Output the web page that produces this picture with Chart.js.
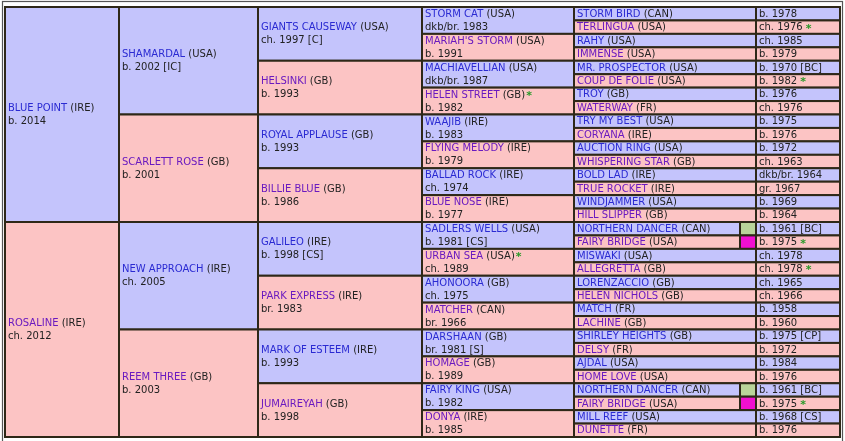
<!DOCTYPE html>
<html><head><meta charset="utf-8">
<script src="https://cdn.jsdelivr.net/npm/chart.js@4"></script>
<style>html,body{margin:0;padding:0;background:#fff}canvas{display:block}</style>
</head><body><canvas id="c" width="845" height="441"></canvas>
<script>
// [name, country, date, star]
const gen1 = [["BLUE POINT","IRE","b. 2014",0],["ROSALINE","IRE","ch. 2012",0]];
const gen2 = [["SHAMARDAL","USA","b. 2002 [IC]",0],["SCARLETT ROSE","GB","b. 2001",0],["NEW APPROACH","IRE","ch. 2005",0],["REEM THREE","GB","b. 2003",0]];
const gen3 = [["GIANTS CAUSEWAY","USA","ch. 1997 [C]",0],["HELSINKI","GB","b. 1993",0],["ROYAL APPLAUSE","GB","b. 1993",0],["BILLIE BLUE","GB","b. 1986",0],
  ["GALILEO","IRE","b. 1998 [CS]",0],["PARK EXPRESS","IRE","br. 1983",0],["MARK OF ESTEEM","IRE","b. 1993",0],["JUMAIREYAH","GB","b. 1998",0]];
const gen4 = [["STORM CAT","USA","dkb/br. 1983",0],["MARIAH'S STORM","USA","b. 1991",0],["MACHIAVELLIAN","USA","dkb/br. 1987",0],["HELEN STREET","GB","b. 1982",1],
  ["WAAJIB","IRE","b. 1983",0],["FLYING MELODY","IRE","b. 1979",0],["BALLAD ROCK","IRE","ch. 1974",0],["BLUE NOSE","IRE","b. 1977",0],
  ["SADLERS WELLS","USA","b. 1981 [CS]",0],["URBAN SEA","USA","ch. 1989",1],["AHONOORA","GB","ch. 1975",0],["MATCHER","CAN","br. 1966",0],
  ["DARSHAAN","GB","br. 1981 [S]",0],["HOMAGE","GB","b. 1989",0],["FAIRY KING","USA","b. 1982",0],["DONYA","IRE","b. 1985",0]];
const gen5 = [["STORM BIRD","CAN","b. 1978",0],["TERLINGUA","USA","ch. 1976",1],["RAHY","USA","ch. 1985",0],["IMMENSE","USA","b. 1979",0],
  ["MR. PROSPECTOR","USA","b. 1970 [BC]",0],["COUP DE FOLIE","USA","b. 1982",1],["TROY","GB","b. 1976",0],["WATERWAY","FR","ch. 1976",0],
  ["TRY MY BEST","USA","b. 1975",0],["CORYANA","IRE","b. 1976",0],["AUCTION RING","USA","b. 1972",0],["WHISPERING STAR","GB","ch. 1963",0],
  ["BOLD LAD","IRE","dkb/br. 1964",0],["TRUE ROCKET","IRE","gr. 1967",0],["WINDJAMMER","USA","b. 1969",0],["HILL SLIPPER","GB","b. 1964",0],
  ["NORTHERN DANCER","CAN","b. 1961 [BC]",0],["FAIRY BRIDGE","USA","b. 1975",1],["MISWAKI","USA","ch. 1978",0],["ALLEGRETTA","GB","ch. 1978",1],
  ["LORENZACCIO","GB","ch. 1965",0],["HELEN NICHOLS","GB","ch. 1966",0],["MATCH","FR","b. 1958",0],["LACHINE","GB","b. 1960",0],
  ["SHIRLEY HEIGHTS","GB","b. 1975 [CP]",0],["DELSY","FR","b. 1972",0],["AJDAL","USA","b. 1984",0],["HOME LOVE","USA","b. 1976",0],
  ["NORTHERN DANCER","CAN","b. 1961 [BC]",0],["FAIRY BRIDGE","USA","b. 1975",1],["MILL REEF","USA","b. 1968 [CS]",0],["DUNETTE","FR","b. 1976",0]];
const inbredMarks = {16:"#b9d49a",17:"#f010d0",28:"#b9d49a",29:"#f010d0"};

const COLS = [0,114,253,417,569,735,751,835];
const BLUE="#c4c4fc", PINK="#fcc4c4", BORDER="#2e2818";
const FONT = '10px "DejaVu Sans", Verdana, sans-serif';

const pedPlugin = {
  id:'ped',
  afterDraw(chart){
    const ctx=chart.ctx, xs=chart.scales.x, ys=chart.scales.y;
    const X=v=>xs.getPixelForValue(v), Y=v=>ys.getPixelForValue(v);
    ctx.save();
    // frame
    ctx.strokeStyle="#555"; ctx.lineWidth=1.2;
    ctx.strokeRect(2.5,1.5,840,445);
    ctx.font=FONT; ctx.textBaseline='middle';
    const cell=(x0,x1,r0,r1,fill)=>{
      ctx.fillStyle=fill; ctx.fillRect(X(x0),Y(r0),X(x1)-X(x0),Y(r1)-Y(r0));
      ctx.strokeStyle=BORDER; ctx.lineWidth=2;
      ctx.strokeRect(X(x0),Y(r0),X(x1)-X(x0),Y(r1)-Y(r0));
    };
    const nameText=(h,i,x,y)=>{
      ctx.fillStyle = i%2===0 ? "#2a2ad2" : "#6a1ac0";
      ctx.fillText(h[0],x,y);
      let w=ctx.measureText(h[0]+" ").width;
      ctx.fillStyle="#222"; const c="("+h[1]+")";
      ctx.fillText(c,x+w,y);
      return x+w+ctx.measureText(c).width;
    };
    const star=(x,y)=>{ctx.fillStyle="#2a9a2a";ctx.font='bold 11px "DejaVu Sans", sans-serif';ctx.fillText("*",x,y+1);ctx.font=FONT;};
    const gens=[gen1,gen2,gen3,gen4];
    gens.forEach((g,gi)=>{
      const span=32/g.length;
      g.forEach((h,i)=>{
        const r0=i*span,r1=r0+span;
        cell(COLS[gi],COLS[gi+1],r0,r1,i%2===0?BLUE:PINK);
        const mid=(Y(r0)+Y(r1))/2, x=X(COLS[gi])+3;
        const e=nameText(h,i,x,mid-6);
        if(h[3]) star(e+1,mid-6);
        ctx.fillStyle="#222"; ctx.fillText(h[2],x,mid+7);
      });
    });
    gen5.forEach((h,i)=>{
      const fill=i%2===0?BLUE:PINK;
      const mk=inbredMarks[i];
      if(mk){cell(COLS[4],COLS[5],i,i+1,fill);cell(COLS[5],COLS[6],i,i+1,mk);}
      else cell(COLS[4],COLS[6],i,i+1,fill);
      cell(COLS[6],COLS[7],i,i+1,fill);
      const mid=(Y(i)+Y(i+1))/2+0.5;
      nameText(h,i,X(COLS[4])+3,mid);
      ctx.fillStyle="#222"; ctx.fillText(h[2],X(COLS[6])+3,mid);
      if(h[3]) star(X(COLS[6])+6+ctx.measureText(h[2]).width,mid);
    });
    ctx.restore();
  }
};

new Chart(document.getElementById('c'),{
  type:'scatter',
  data:{datasets:[{data:[]}]},
  options:{
    responsive:false,animation:false,
    layout:{padding:{left:5,right:5,top:7,bottom:4}},
    plugins:{legend:{display:false},tooltip:{enabled:false}},
    scales:{
      x:{type:'linear',min:0,max:835,display:false},
      y:{type:'linear',min:0,max:32,reverse:true,display:false}
    }
  },
  plugins:[pedPlugin]
});
</script></body></html>
